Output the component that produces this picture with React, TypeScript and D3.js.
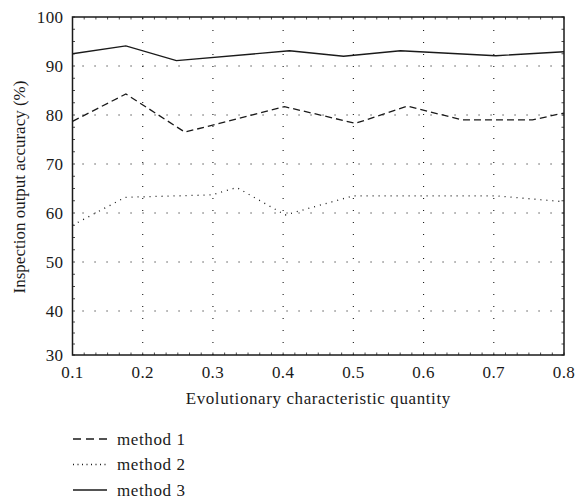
import React from 'react';
import * as d3 from 'd3';

// values
const xTicks = [0.1, 0.2, 0.3, 0.4, 0.5, 0.6, 0.7, 0.8];
const yTicks = [30, 40, 50, 60, 70, 80, 90, 100];
const gridX = [0.2, 0.3, 0.4, 0.5, 0.6, 0.7];
const gridY = [40, 50, 60, 70, 80, 90];

const m1x = [0.1, 0.176, 0.26, 0.402, 0.503, 0.577, 0.655, 0.755, 0.8];
const m1y = [78.7, 84.3, 76.5, 81.7, 78.3, 81.8, 79, 79, 80.4];
const m2x = [0.1, 0.175, 0.299, 0.334, 0.403, 0.5, 0.703, 0.8];
const m2y = [57.5, 63.2, 63.7, 65.2, 59.6, 63.5, 63.5, 62.3];
const m3x = [0.1, 0.176, 0.248, 0.409, 0.486, 0.567, 0.703, 0.8];
const m3y = [92.5, 94.1, 91.1, 93.1, 92.0, 93.1, 92.1, 92.9];

const seriesNames = ['method 1', 'method 2', 'method 3'];

const W = 576, H = 501;
const left = 72.5, right = 564, top = 17, bottom = 355;
const ink = '#1a1a1a';
const font = '"Liberation Serif", "DejaVu Serif", serif';

const x = d3.scaleLinear().domain([0.1, 0.8]).range([left, right]);
// the plotted axis is slightly compressed below 40 in the original
const y = d3.scaleLinear().domain([30, 40, 100]).range([bottom, 311, top]);

const line = d3.line<[number, number]>().x(d => x(d[0])).y(d => y(d[1]));

const series = [
  { pts: m1x.map((v, i) => [v, m1y[i]] as [number, number]), dash: '7,4', w: 1.3 },
  { pts: m2x.map((v, i) => [v, m2y[i]] as [number, number]), dash: '1,5', w: 1.3 },
  { pts: m3x.map((v, i) => [v, m3y[i]] as [number, number]), dash: undefined, w: 1.4 },
];

const minorX = d3.range(0, 43).map(i => 0.1 + (i * 0.7) / 42);
const minorY = d3.range(0, 29).map(i => 30 + i * 2.5);

export default function App() {
  return (
    <svg width={W} height={H} style={{ position: 'absolute', left: 0, top: 0, background: '#fff' }}>
      {/* grid */}
      {gridY.map(v => (
        <line key={'gy' + v} x1={left + 10} x2={right} y1={y(v)} y2={y(v)}
          stroke={ink} strokeWidth={1.1} strokeDasharray="1.1,10.9" />
      ))}
      {gridX.map(v => (
        <line key={'gx' + v} x1={x(v)} x2={x(v)} y1={bottom} y2={top}
          stroke={ink} strokeWidth={1.1} strokeDasharray="1.1,10.9" />
      ))}

      {/* minor ticks on all four sides */}
      {minorX.map((v, i) => (
        <g key={'mx' + i}>
          <line x1={x(v)} x2={x(v)} y1={bottom} y2={bottom - 2.5} stroke={ink} strokeWidth={0.8} />
          <line x1={x(v)} x2={x(v)} y1={top} y2={top + 2.5} stroke={ink} strokeWidth={0.8} />
        </g>
      ))}
      {minorY.map((v, i) => (
        <g key={'my' + i}>
          <line x1={left} x2={left + 2.5} y1={y(v)} y2={y(v)} stroke={ink} strokeWidth={0.8} />
          <line x1={right} x2={right - 2.5} y1={y(v)} y2={y(v)} stroke={ink} strokeWidth={0.8} />
        </g>
      ))}

      {/* frame */}
      <rect x={left} y={top} width={right - left} height={bottom - top}
        fill="none" stroke={ink} strokeWidth={1.5} />

      {/* series */}
      {series.map((s, i) => (
        <path key={'s' + i} d={line(s.pts) || ''} fill="none" stroke={ink}
          strokeWidth={s.w} strokeDasharray={s.dash} />
      ))}

      {/* tick labels */}
      {xTicks.map(v => (
        <text key={'xt' + v} x={x(v)} y={bottom + 23} textAnchor="middle"
          fontFamily={font} fontSize={17} letterSpacing={0.4} fill={ink}>{v.toFixed(1)}</text>
      ))}
      {yTicks.map(v => (
        <text key={'yt' + v} x={left - 9} y={y(v) + 5.5} textAnchor="end"
          fontFamily={font} fontSize={17} letterSpacing={0.4} fill={ink}>{v}</text>
      ))}

      {/* axis titles */}
      <text x={(left + right) / 2} y={404} textAnchor="middle" fontFamily={font}
        fontSize={17} letterSpacing={0.6} fill={ink}>Evolutionary characteristic quantity</text>
      <text transform={`translate(25,187) rotate(-90)`} textAnchor="middle"
        fontFamily={font} fontSize={17} fill={ink}>Inspection output accuracy (%)</text>

      {/* legend */}
      {seriesNames.map((name, i) => {
        const ly = 439 + i * 25.5;
        return (
          <g key={'lg' + i}>
            <line x1={73} x2={107} y1={ly} y2={ly} stroke={ink}
              strokeWidth={series[i].w} strokeDasharray={i === 0 ? '8,5' : i === 1 ? '1,3.5' : undefined} />
            <text x={117} y={ly + 5.5} fontFamily={font} fontSize={17} letterSpacing={0.6} fill={ink}>{name}</text>
          </g>
        );
      })}
    </svg>
  );
}
